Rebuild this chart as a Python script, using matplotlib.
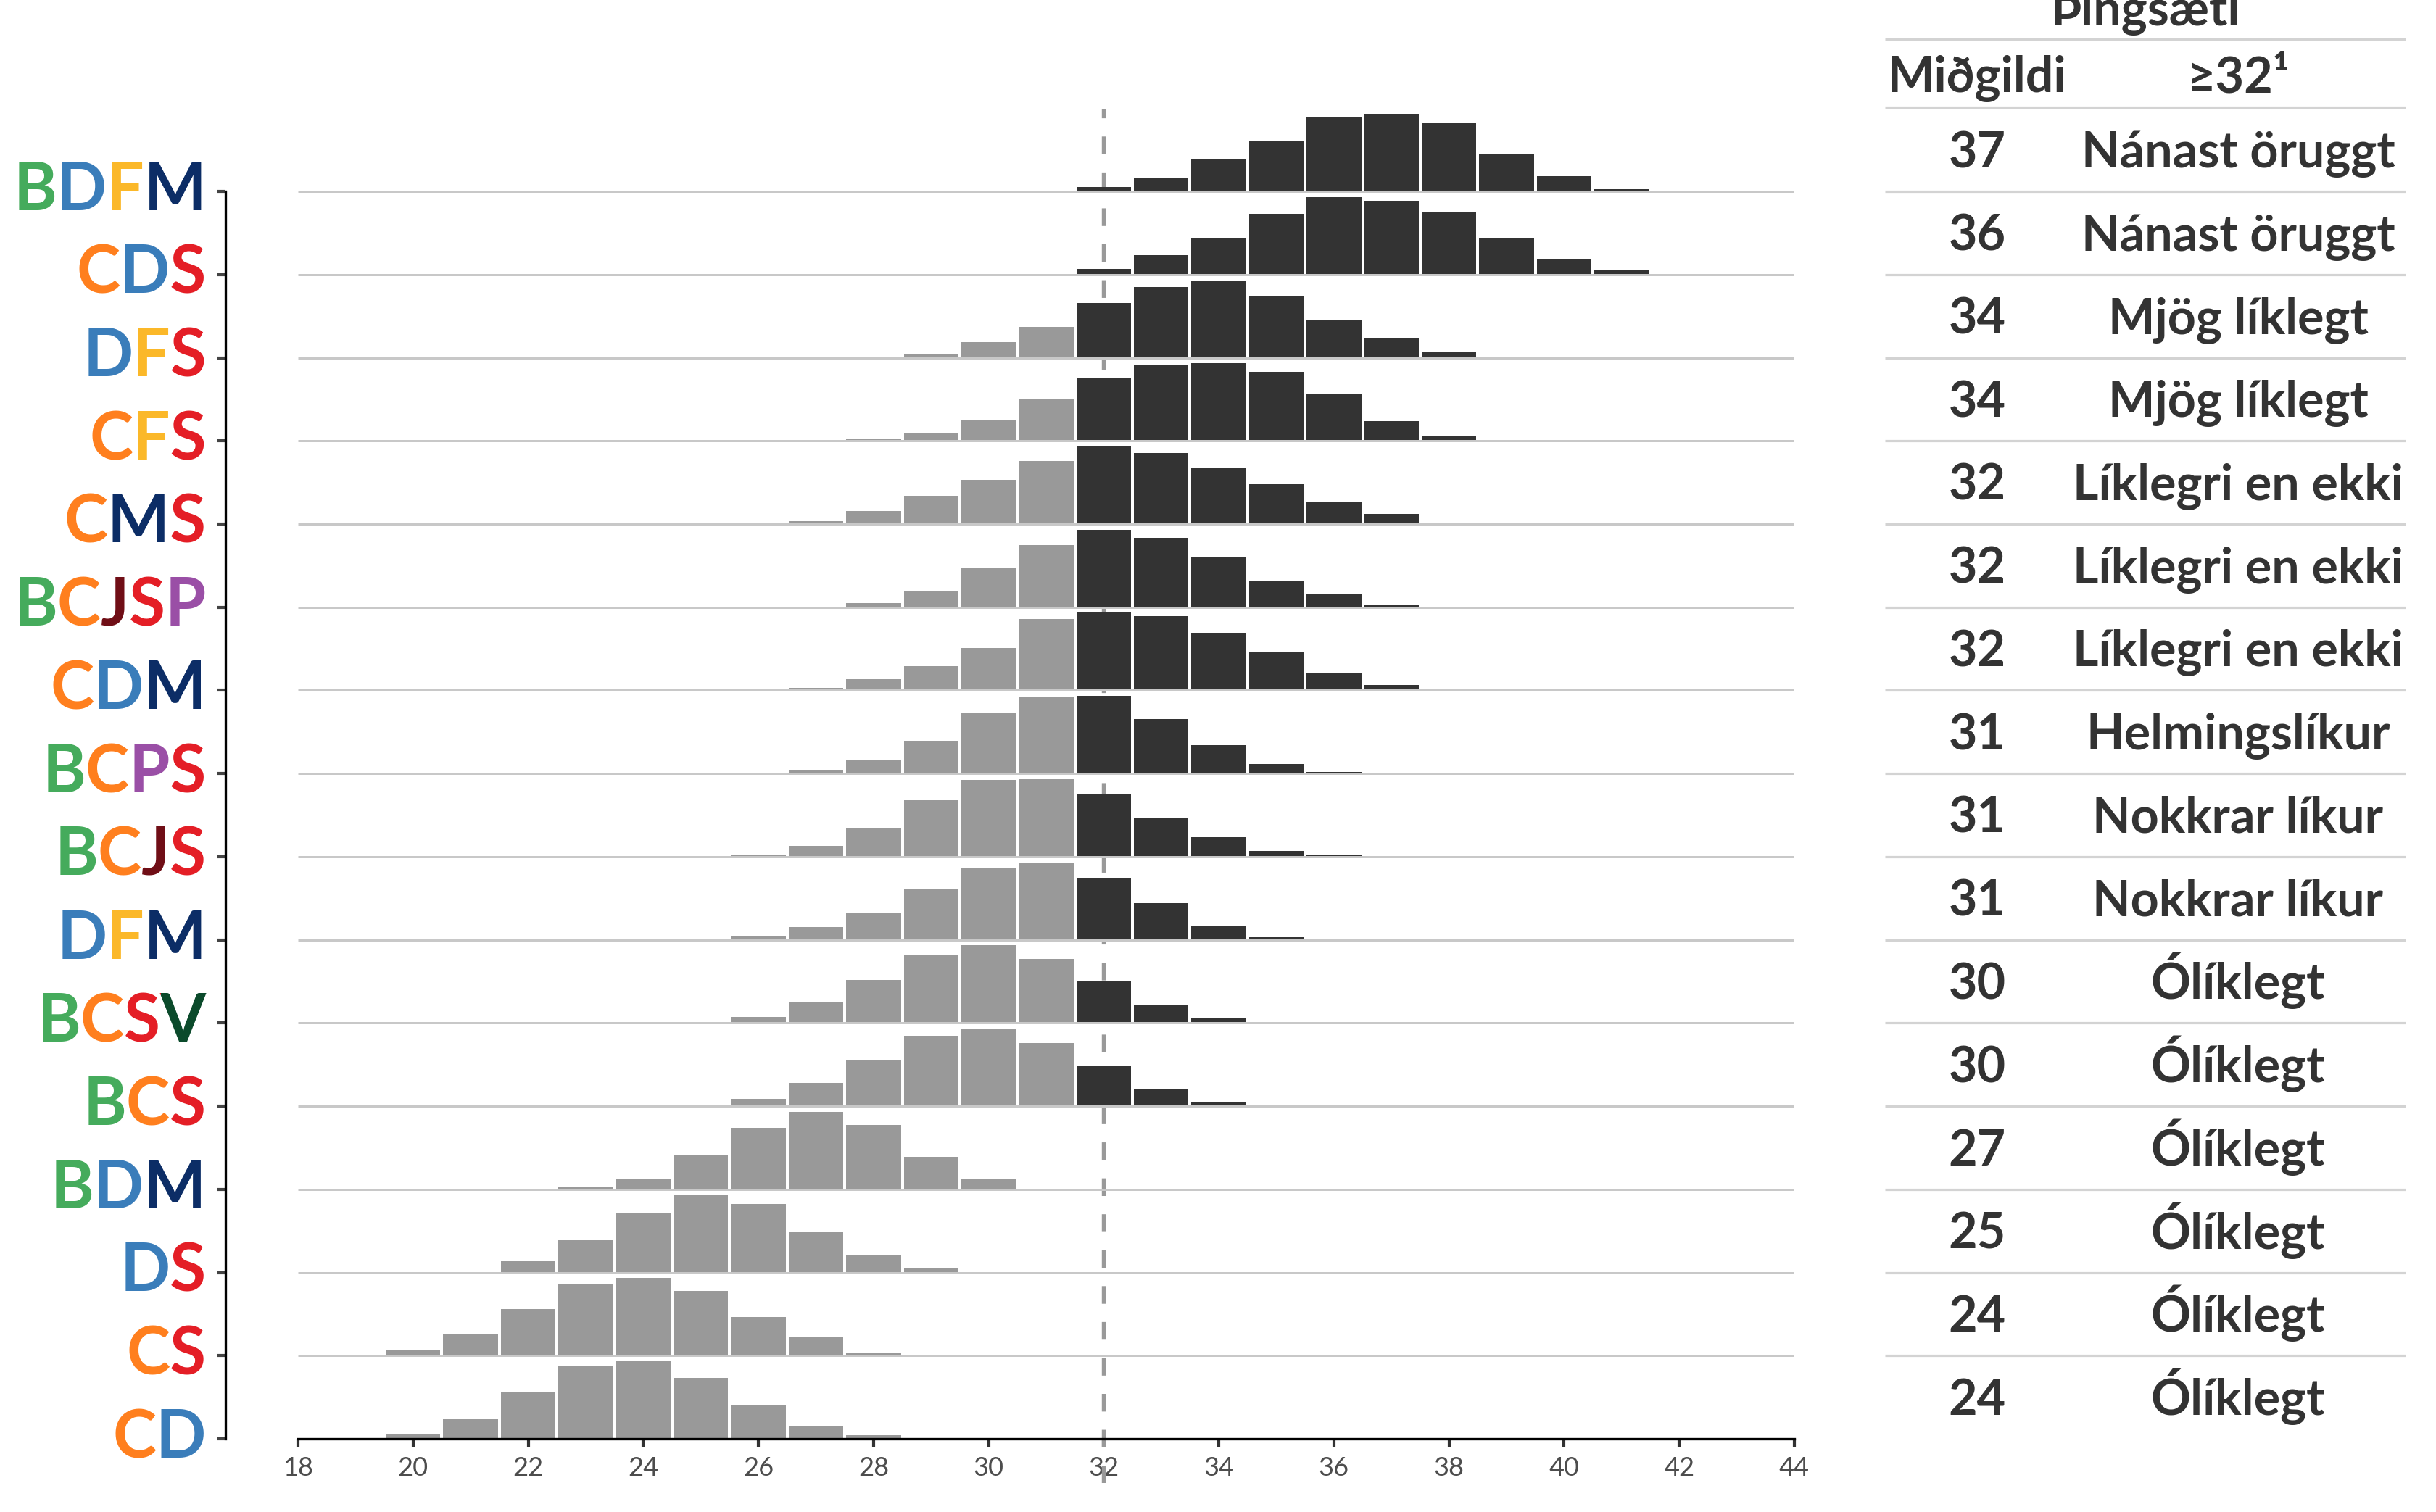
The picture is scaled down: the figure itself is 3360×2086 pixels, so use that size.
import numpy as np
import matplotlib
matplotlib.use("Agg")
import matplotlib.pyplot as plt
from matplotlib.transforms import Bbox

# ---------------- data ----------------
coalitions = ["BDFM", "CDS", "DFS", "CFS", "CMS", "BCJSP", "CDM", "BCPS",
              "BCJS", "DFM", "BCSV", "BCS", "BDM", "DS", "CS", "CD"]
medians = [37, 36, 34, 34, 32, 32, 32, 31, 31, 31, 30, 30, 27, 25, 24, 24]
likelihood = ["Nánast öruggt", "Nánast öruggt", "Mjög líklegt", "Mjög líklegt",
              "Líklegri en ekki", "Líklegri en ekki", "Líklegri en ekki",
              "Helmingslíkur", "Nokkrar líkur", "Nokkrar líkur",
              "Ólíklegt", "Ólíklegt", "Ólíklegt", "Ólíklegt", "Ólíklegt", "Ólíklegt"]
# first seat count of each distribution, and probability (%) per seat count
first_seat = [32, 32, 28, 28, 27, 28, 27, 27, 26, 26, 26, 25, 23, 21, 20, 20]
seat_probs = [
    [1.1, 3.7, 8.7, 13.3, 19.8, 20.7, 18.2, 9.8, 4.0, 0.6],
    [1.4, 5.0, 9.2, 15.4, 19.7, 18.8, 15.9, 9.3, 4.0, 1.1],
    [0.1, 1.1, 4.1, 8.1, 14.5, 18.7, 20.5, 16.1, 10.1, 5.2, 1.5],
    [0.5, 1.9, 4.8, 9.7, 14.6, 17.8, 18.1, 16.1, 10.9, 4.6, 1.2],
    [0.8, 3.3, 7.2, 11.3, 16.1, 19.7, 18.0, 14.3, 10.1, 5.6, 2.6, 0.4],
    [1.1, 4.5, 10.9, 17.3, 21.6, 19.3, 13.9, 7.2, 3.5, 0.7],
    [0.6, 2.6, 5.8, 10.1, 17.0, 18.4, 17.7, 13.6, 9.0, 4.0, 1.2],
    [0.8, 3.7, 9.2, 17.0, 21.4, 21.6, 15.2, 7.9, 2.6, 0.5],
    [0.4, 2.9, 7.4, 14.8, 20.2, 20.4, 16.4, 10.3, 5.2, 1.5, 0.4],
    [0.9, 3.6, 7.6, 14.3, 19.9, 21.7, 17.1, 10.2, 3.9, 0.8],
    [1.7, 6.1, 12.5, 19.8, 22.4, 18.6, 12.1, 5.4, 1.4],
    [0.1, 2.1, 6.7, 13.1, 20.1, 22.2, 18.1, 11.5, 5.0, 1.2],
    [0.6, 3.7, 11.5, 21.1, 26.5, 21.9, 11.1, 3.5, 0.2],
    [0.2, 3.6, 10.4, 19.1, 24.9, 22.1, 12.9, 5.7, 1.2],
    [1.5, 6.3, 13.3, 20.7, 22.3, 18.6, 11.1, 5.3, 0.9],
    [1.4, 5.9, 14.0, 22.1, 23.3, 18.3, 10.3, 3.7, 1.0],
]
majority = 32
x_ticks = list(range(18, 45, 2))
party_colors = {"B": "#45AB5C", "C": "#FF7F1E", "D": "#3A7DBA", "F": "#FBB829",
                "M": "#0C2D66", "S": "#E41E26", "J": "#700E16", "P": "#9A4FA6",
                "V": "#0B4A2B"}
header_title = "Þingsæti"
header_cols = ["Miðgildi", "≥32¹"]

# ---------------- layout ----------------
W, H, DPI = 3360, 2086, 300
PX = 72 / DPI
FONT = ["Lato", "DejaVu Sans"]
plt.rcParams["font.family"] = FONT

fig = plt.figure(figsize=(W / DPI, H / DPI), dpi=DPI)
fig.patch.set_facecolor("white")

ROW = 114.73          # px between ridge baselines
BASE0 = 1985          # px (from top) of bottom baseline
AX_L, AX_R, AX_T, AX_B = 411, 2475, 150, 2046
n = len(coalitions)

ax = fig.add_axes([AX_L / W, (H - AX_B) / H, (AX_R - AX_L) / W, (AX_B - AX_T) / H])
ax.set_xlim(18, 44)
ax.set_ylim(-(AX_B - BASE0) / ROW, (BASE0 - AX_T) / ROW)
ax.patch.set_visible(False)

DARK, GREY = "#333333", "#999999"
peak = 107 / ROW
for k, (s0, probs) in enumerate(zip(first_seat, seat_probs)):
    y = n - 1 - k
    p = np.array(probs, dtype=float)
    seats = s0 + np.arange(len(p))
    h = p / p.max() * peak
    cols = [DARK if s >= majority else GREY for s in seats]
    ax.bar(seats, h, width=0.95, bottom=y, color=cols, linewidth=0, zorder=3)

ax.hlines(np.arange(n), 18, 44, colors="#c8c8c8", lw=3 * PX, zorder=4)
ax.axvline(majority, color="#999999", lw=1.3, linestyle=(0, (4.5, 4.65)), zorder=2)

for s in ["top", "right"]:
    ax.spines[s].set_visible(False)
ax.spines["bottom"].set_position(("data", 0))
ax.spines["bottom"].set_bounds(18, 44)
ax.spines["bottom"].set_linewidth(0.8)
ax.spines["bottom"].set_zorder(6)
ax.spines["left"].set_position(("outward", 100 * PX))
ax.spines["left"].set_bounds(0, n - 1)
ax.spines["left"].set_linewidth(0.8)

ax.set_xticks(x_ticks)
ax.set_xticklabels([str(t) for t in x_ticks])
ax.tick_params(axis="x", length=11 * PX, width=1.0, color="#333333",
               labelsize=8.7, labelcolor="#4d4d4d", pad=3.0)
ax.set_yticks(np.arange(n))
ax.set_yticklabels([])
ax.tick_params(axis="y", length=11 * PX, width=1.0, color="#444444")

# overlay axes in pixel coords (from top)
tax = fig.add_axes([0, 0, 1, 1], zorder=10)
tax.set_xlim(0, W)
tax.set_ylim(H, 0)
tax.axis("off")
tax.patch.set_visible(False)


def base_px(k):
    return BASE0 - (n - 1 - k) * ROW


# ---------------- table ----------------
TXT = "#333333"
TL, TR = 2600, 3318
C1, C2 = 2727, 3087
tkw = dict(fontsize=16.4, fontweight="bold", color=TXT, va="baseline", ha="center")
tax.text((TL + TR) / 2, 35, header_title, **tkw)
tax.text(C1, 127, header_cols[0], **tkw)
tax.text(C2, 127, header_cols[1], **tkw)
lines_y = [54, 148] + [base_px(k) for k in range(n - 1)]
tax.hlines(lines_y, TL, TR, colors="#d3d3d3", lw=3.2 * PX)
for k in range(n):
    yb = base_px(k) - 33
    tax.text(C1, yb, str(medians[k]), **tkw)
    tax.text(C2, yb, likelihood[k], **tkw)

# ---------------- coloured coalition labels ----------------
fig.canvas.draw()
r = fig.canvas.get_renderer()
lkw = dict(fontsize=21.8, fontweight="bold", va="baseline")
LABEL_R = 285
for k, name in enumerate(coalitions):
    yb = base_px(k) + 26
    full = tax.text(LABEL_R, yb, name, ha="right", **lkw)
    bb = full.get_window_extent(r)
    full.remove()
    x0_data = tax.transData.inverted().transform((bb.x0, bb.y0))[0]
    rights, widths = [], []
    for i in range(1, len(name) + 1):
        t = tax.text(x0_data, yb, name[:i], ha="left", **lkw)
        rights.append(t.get_window_extent(r).x1)
        t.remove()
    for ch in name:
        t = tax.text(x0_data, yb, ch, ha="left", **lkw)
        widths.append(t.get_window_extent(r).width)
        t.remove()
    bounds = [0.0]
    for i in range(len(name) - 1):
        nxt_left = rights[i + 1] - widths[i + 1]
        bounds.append((rights[i] + nxt_left) / 2)
    bounds.append(float(W))
    for i, ch in enumerate(name):
        t = tax.text(LABEL_R, yb, name, ha="right", color=party_colors[ch], **lkw)
        t.set_clip_on(True)
        t.set_clip_box(Bbox.from_extents(bounds[i], 0, bounds[i + 1], H))

fig.savefig("out.png", dpi=DPI, facecolor="white")
